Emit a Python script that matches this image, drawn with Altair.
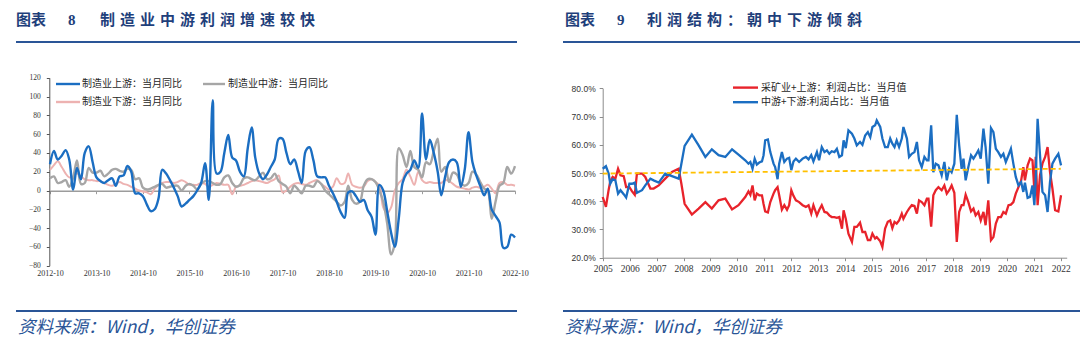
import altair as alt
import pandas as pd

# ---------------- 图表 8 data (monthly, 2012-10 .. 2022-10) ----------------
upstream = [28, 42, 33, 37, 43, 33, 1, 24, 12, 40,
            47, 30, 14, 10, 8, 11, 13, 5, 15, 16,
            26, 20, -3, -3, -6, -15, -22, -20, -8, 22,
            18, 11, 3, -6, -17, -14, -10, -6, 0, 8,
            29, -10, 96, 18, 20, 40, 59, 35, 32, 20,
            15, 45, 67, 35, 18, 12, 17, 25, 33, 55,
            55, 40, 28, 33, 20, 8, 42, 46, 32, 15,
            14, 14, 5, -3, -12, -23, -29, -2, -1, -6,
            -12, -10, -21, -28, -47, 6, 0, -22, -45, -60,
            -30, 8, 18, 22, 32, 24, 82, 33, 54, 40,
            20, -5, 15, 30, 33, 30, 4, 22, 62, 30,
            16, 5, -5, 2, -20, -27, -34, -61, -60, -47,
            -50]
midstream = [13, 15, 8, 9, 11, 4, 14, 32, 7, 8,
             24, 19, 19, 21, 15, 18, 22, 23, 21, 20,
             23, 22, 12, 13, 3, 1, 2, 4, 6, 7,
             3, 4, 5, 5, 0, 5, 7, 5, 1, 7,
             10, 10, 8, 6, 7, 14, 16, 8, 4, 6,
             13, 14, 12, 11, 15, 19, 12, 13, 18, 10,
             7, 4, -3, 5, 1, -3, 5, 5, 4, 10,
             7, 0, -4, -8, -12, -16, -12, 5, -10, -14,
             -12, 5, 12, 12, 9, 0, -12, -35, -68, -56,
             45, 38, 25, 42, 25, 22, 14, 30, 28, 42,
             55, 20, 25, 9, 19, 17, 8, 5, 8, 20,
             17, 9, 2, 0, -30, -12, 5, 8, 25, 18,
             26]
downstream = [22, 27, 31, 25, 18, 14, 15, 18, 15, 12,
              11, 11, 10, 10, 8, 6, 5, 7, 9, 7,
              6, 4, 2, 0, -1, -2, -4, 2, 6, 8,
              9, 9, 8, 9, 11, 9, 6, 6, 6, 8,
              7, 4, 6, 8, 7, 6, 6, -4, 4, 5,
              6, 8, 10, 11, 10, 9, 8, 10, 12, 16,
              -2, 0, 4, 7, 8, 7, 6, 8, 10, 11,
              7, 4, 1, 4, 13, 7, 8, 18, 6, 4,
              3, 4, 10, 12, 9, 5, -18, -24, -18, 0,
              8, 12, 22, 15, 6, 20, 11, 8, 9, 8,
              8, 8, 11, 10, 7, 4, 3, 2, 1, 3,
              4, 3, 4, 6, 2, -3, 8, 9, 6, 6,
              5]
series8 = ["制造业上游：当月同比", "制造业中游：当月同比", "制造业下游：当月同比"]
tick_years8 = list(range(2012, 2023))          # ticks fall on October of each year
y_ticks8 = [-80, -60, -40, -20, 0, 20, 40, 60, 80, 100, 120]

# ---------------- 图表 9 data ----------------
years9 = [2005.00, 2005.12, 2005.22, 2005.28, 2005.37, 2005.47, 2005.57, 2005.66, 2005.78, 2005.87,
          2005.99, 2006.09, 2006.19, 2006.27, 2006.46, 2006.58, 2006.77, 2006.89, 2007.08, 2007.32,
          2007.57, 2007.82, 2007.92, 2008.04, 2008.31, 2008.56, 2008.81, 2009.05, 2009.30, 2009.55,
          2009.80, 2010.04, 2010.29, 2010.41, 2010.48, 2010.56, 2010.64, 2010.72, 2010.81, 2010.91,
          2010.97, 2011.03, 2011.13, 2011.22, 2011.34, 2011.40, 2011.49, 2011.55, 2011.65, 2011.74,
          2011.84, 2011.92, 2012.00, 2012.08, 2012.17, 2012.29, 2012.42, 2012.54, 2012.64, 2012.74,
          2012.82, 2012.95, 2013.03, 2013.13, 2013.23, 2013.32, 2013.41, 2013.50, 2013.60, 2013.69,
          2013.78, 2013.88, 2013.94, 2014.02, 2014.12, 2014.25, 2014.34, 2014.43, 2014.55, 2014.64,
          2014.74, 2014.84, 2014.93, 2015.01, 2015.11, 2015.17, 2015.30, 2015.38, 2015.48, 2015.58,
          2015.67, 2015.75, 2015.83, 2015.91, 2016.00, 2016.10, 2016.16, 2016.29, 2016.37, 2016.47,
          2016.57, 2016.66, 2016.74, 2016.84, 2016.94, 2017.03, 2017.09, 2017.19, 2017.27, 2017.36,
          2017.46, 2017.58, 2017.68, 2017.77, 2017.86, 2017.95, 2018.05, 2018.14, 2018.23, 2018.32,
          2018.39, 2018.47, 2018.57, 2018.67, 2018.76, 2018.84, 2018.94, 2019.03, 2019.13, 2019.21,
          2019.31, 2019.41, 2019.50, 2019.59, 2019.68, 2019.78, 2019.87, 2019.96, 2020.06, 2020.15,
          2020.24, 2020.33, 2020.43, 2020.53, 2020.61, 2020.67, 2020.77, 2020.86, 2020.95, 2021.02,
          2021.07, 2021.14, 2021.23, 2021.32, 2021.42, 2021.51, 2021.60, 2021.69, 2021.79, 2021.91,
          2022.01]
share_upstream = [41.5, 38.0, 44.0, 47.0, 48.6, 48.0, 51.5, 49.2, 48.9, 45.0,
                  45.0, 43.5, 42.3, 49.8, 49.8, 48.6, 44.5, 44.5, 45.6, 48.0,
                  50.4, 51.5, 46.2, 39.1, 35.3, 37.4, 39.7, 37.4, 40.3, 40.9,
                  37.1, 38.6, 41.5, 43.5, 42.3, 45.6, 40.3, 42.7, 42.1, 42.1,
                  39.0, 36.4, 36.0, 39.7, 42.7, 43.9, 45.0, 42.1, 37.0, 38.6,
                  37.0, 38.6, 43.9, 41.9, 40.3, 39.7, 38.6, 38.0, 38.6, 35.6,
                  38.6, 35.0, 36.8, 38.6, 36.2, 36.0, 35.0, 34.4, 34.4, 34.1,
                  34.4, 30.3, 36.8, 33.8, 28.5, 25.6, 30.9, 30.9, 32.4, 29.1,
                  29.1, 26.2, 26.2, 28.5, 26.8, 27.3, 25.8, 23.8, 30.3, 32.7,
                  33.2, 30.5, 32.7, 32.1, 33.2, 35.6, 33.8, 36.2, 37.4, 38.6,
                  38.3, 35.6, 40.3, 39.7, 38.6, 40.9, 40.9, 31.0, 42.1, 43.9,
                  45.0, 43.9, 45.6, 42.7, 43.9, 45.6, 43.0, 25.6, 36.2, 38.6,
                  38.6, 42.3, 39.7, 36.4, 37.4, 35.0, 36.2, 33.2, 36.2, 31.5,
                  40.3, 26.2, 27.3, 32.1, 34.4, 34.4, 36.2, 35.6, 38.6, 38.8,
                  39.7, 42.7, 45.0, 47.4, 52.1, 47.4, 52.7, 55.1, 54.5, 43.9,
                  55.7, 38.6, 49.2, 53.3, 55.7, 59.2, 50.4, 44.5, 36.8, 36.4,
                  42.1]
share_downstream = [51.5, 52.4, 49.8, 46.2, 47.8, 47.4, 42.7, 43.9, 42.5, 41.3,
                    46.2, 46.2, 46.6, 43.0, 43.9, 45.6, 48.0, 47.4, 46.6, 49.8,
                    48.9, 48.0, 53.3, 59.6, 63.6, 59.8, 55.7, 58.4, 56.3, 55.7,
                    58.4, 56.5, 54.5, 53.3, 53.9, 51.5, 55.0, 53.0, 53.7, 54.1,
                    56.3, 61.6, 61.9, 57.4, 53.3, 52.1, 47.8, 53.3, 57.4, 53.9,
                    55.1, 55.4, 51.0, 54.1, 55.1, 53.9, 55.1, 55.7, 54.8, 56.3,
                    54.1, 57.4, 54.5, 59.2, 57.4, 58.0, 56.8, 57.7, 57.4, 58.6,
                    55.7, 56.3, 61.6, 58.8, 65.1, 63.9, 62.2, 59.8, 61.0, 60.0,
                    63.3, 64.5, 62.7, 66.3, 66.9, 68.6, 66.3, 62.2, 59.2, 59.2,
                    62.2, 60.4, 59.2, 61.6, 59.2, 62.2, 66.3, 62.2, 55.7, 56.8,
                    57.4, 61.0, 54.5, 52.1, 55.7, 54.5, 54.5, 66.9, 50.3, 53.3,
                    52.7, 49.2, 53.9, 47.4, 51.5, 50.3, 53.3, 70.6, 59.8, 51.5,
                    55.1, 47.4, 52.1, 56.3, 55.1, 56.3, 58.0, 55.1, 65.7, 59.2,
                    46.2, 65.9, 64.5, 58.6, 57.4, 55.7, 56.8, 53.9, 56.3, 58.6,
                    53.3, 48.6, 45.6, 46.8, 43.3, 46.6, 41.2, 41.5, 45.6, 38.6,
                    48.0, 69.2, 56.3, 43.3, 42.1, 36.2, 46.8, 53.3, 55.1, 56.8,
                    52.7]
trend_years = [2005.0, 2022.0]
trend_share = [49.8, 51.5]
series9 = ["采矿业+上游：利润占比：当月值", "中游+下游:利润占比：当月值"]
tick_years9 = list(range(2005, 2023))
y_ticks9 = [20, 30, 40, 50, 60, 70, 80]

title8_head, title8_num, title8_text = "图表", "8", "制造业中游利润增速较快"
title9_head, title9_num, title9_text = "图表", "9", "利润结构：朝中下游倾斜"
source_text = "资料来源：Wind，华创证券"

# ---------------- styles ----------------
CJK = "Noto Sans CJK SC"
SERIF = "Liberation Serif"
SANS = "Liberation Sans"
NAVY = "#1F3F7B"
RULE_BLUE = "#2A5597"
BLUE = "#1B6EC2"
GRAY = "#A6A6A6"
PINK = "#EDB2B1"
RED = "#E8232B"
YELLOW = "#FFC000"
SP = "\u2004"


def dt(y, m):
    return alt.DateTime(year=y, month=m, date=1)


one = pd.DataFrame({"k": [0]})

# ---------------- left chart ----------------
months8 = pd.date_range("2012-10-01", periods=len(upstream), freq="MS")
X8 = alt.Scale(domain=[dt(2012, 10), dt(2022, 10)], range=[50, 515])
Y8 = alt.Scale(domain=[-80, 120], range=[265.7, 77.7], nice=False, zero=False)
AX8 = alt.Axis(orient="bottom", offset=-164.3, values=[dt(y, 10) for y in tick_years8],
               format="%Y-%m", title=None, grid=False,
               domainColor="#9C9C9C", domainWidth=1.6, tickColor="#9C9C9C", tickSize=3,
               labelFont=SERIF, labelFontSize=8, labelColor="#333333",
               labelBaseline="middle", labelPadding=80, labelFlush=False, labelOverlap=False)
AY8 = alt.Axis(orient="left", offset=-49.3, values=y_ticks8, title=None, grid=False,
               domainColor="#555555", tickColor="#555555", tickSize=3,
               labelFont=SERIF, labelFontSize=7.5, labelColor="#333333", labelPadding=6)


def line8(vals, color, width):
    df = pd.DataFrame({"month": months8, "value": vals})
    return alt.Chart(df).mark_line(color=color, strokeWidth=width, interpolate="catmull-rom").encode(
        x=alt.X("month:T", scale=X8, axis=AX8),
        y=alt.Y("value:Q", scale=Y8, axis=AY8),
    )


left = alt.layer(line8(downstream, PINK, 2), line8(midstream, GRAY, 2.4), line8(upstream, BLUE, 2.4))

# ---------------- right chart ----------------
X9 = alt.Scale(domain=[2005, 2022.22], range=[602.7, 1066.7], nice=False, zero=False)
Y9 = alt.Scale(domain=[20, 80], range=[257.7, 88.3], nice=False, zero=False)
AX9 = alt.Axis(orient="bottom", offset=-97.3, values=tick_years9, format="d", title=None, grid=False,
               domainColor="#8C8C8C", tickColor="#8C8C8C", tickSize=3,
               labelFont=SERIF, labelFontSize=9.5, labelColor="#333333",
               labelBaseline="middle", labelPadding=7.5, labelFlush=False, labelOverlap=False)
AY9 = alt.Axis(orient="left", offset=-602.7, values=y_ticks9, title=None, grid=False,
               labelExpr="format(datum.value, '.1f') + '%'",
               domainColor="#8C8C8C", tickColor="#8C8C8C", tickSize=3.5,
               labelFont=SANS, labelFontSize=8.5, labelColor="#333333", labelPadding=4)


def line9(xs, vals, color, width, dash=None):
    df = pd.DataFrame({"year": xs, "share": vals})
    kw = dict(color=color, strokeWidth=width)
    if dash:
        kw["strokeDash"] = dash
    return alt.Chart(df).mark_line(**kw).encode(
        x=alt.X("year:Q", scale=X9, axis=AX9),
        y=alt.Y("share:Q", scale=Y9, axis=AY9),
    )


right = alt.layer(line9(years9, share_upstream, RED, 2.3),
                  line9(years9, share_downstream, BLUE, 2.3),
                  line9(trend_years, trend_share, YELLOW, 1.8, [5, 3]))


# ---------------- decorations ----------------
def text(x, y, s, size, color, weight="normal", font=CJK, style="normal"):
    return alt.Chart(one).mark_text(align="left", baseline="middle", font=font, fontSize=size,
                                    fontWeight=weight, fontStyle=style, color=color).encode(
        x=alt.value(x), y=alt.value(y), text=alt.value(s))


def hrule(x1, x2, y, color, width):
    return alt.Chart(one).mark_rule(color=color, strokeWidth=width).encode(
        x=alt.value(x1), x2=alt.value(x2), y=alt.value(y))


deco = [
    text(16, 20, title8_head, 15, NAVY, "bold"),
    text(68, 20, title8_num, 15, NAVY, "bold", font=SERIF),
    text(100, 20, SP.join(title8_text), 15, NAVY, "bold"),
    text(565, 20, title9_head, 15, NAVY, "bold"),
    text(617, 20, title9_num, 15, NAVY, "bold", font=SERIF),
    text(647, 20, SP.join(title9_text), 15, NAVY, "bold"),
    hrule(16, 517, 42, RULE_BLUE, 2),
    hrule(563, 1080, 42, RULE_BLUE, 2),
    hrule(16, 517, 311, RULE_BLUE, 2),
    hrule(563, 1080, 311, RULE_BLUE, 2),
    text(18, 328, source_text, 17.5, RULE_BLUE, style="italic"),
    text(565, 328, source_text, 17.5, RULE_BLUE, style="italic"),
    # legends
    hrule(56, 80, 84, BLUE, 2.4), text(82, 84, series8[0], 10, "#262626"),
    hrule(203, 225, 84, GRAY, 2.4), text(228, 84, series8[1], 10, "#262626"),
    hrule(56, 80, 102, PINK, 2.4), text(82, 102, series8[2], 10, "#262626"),
    hrule(733, 758, 87.6, RED, 2.4), text(761, 87.6, series9[0], 10, "#262626"),
    hrule(733, 758, 102.2, BLUE, 2.4), text(761, 102.2, series9[1], 10, "#262626"),
]

chart = alt.layer(left, right, *deco).resolve_scale(
    x="independent", y="independent"
).properties(
    width=1080, height=355, padding=0, autosize=alt.AutoSizeParams(type="none"),
    background="white"
).configure_view(stroke=None)

chart.save("out.html", embed_options={"renderer": "svg", "actions": False})
